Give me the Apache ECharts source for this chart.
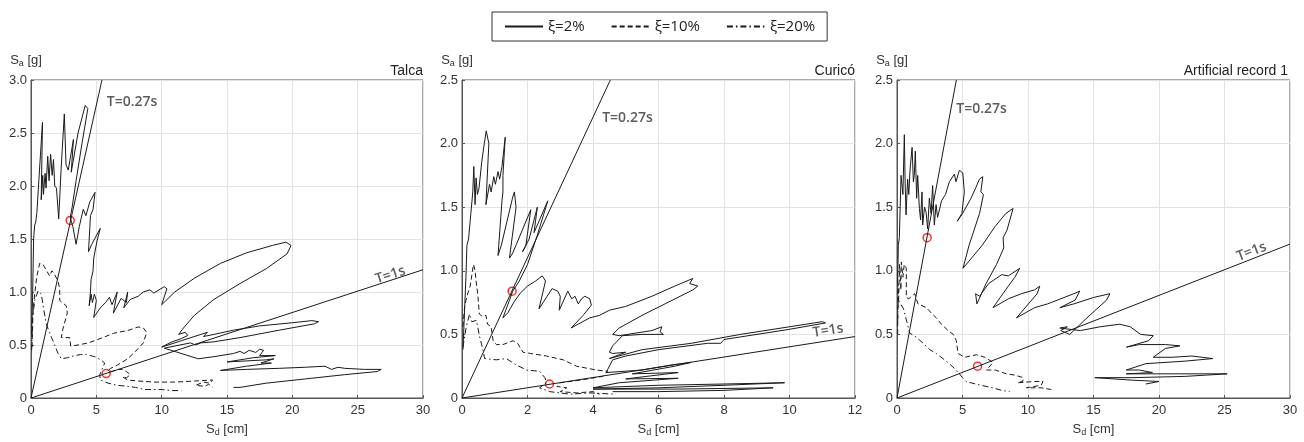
<!DOCTYPE html>
<html>
<head>
<meta charset="utf-8">
<script src="https://cdn.jsdelivr.net/npm/echarts@6/dist/echarts.min.js"></script>
<style>
html, body { margin: 0; padding: 0; background: #fff; }
#chart { width: 1304px; height: 442px; }
</style>
</head>
<body>
<div id="chart"></div>
<script>
// panel titles and legend names
const panelTitles = ['Talca', 'Curicó', 'Artificial record 1'];
const dampingNames = ['ξ=2%', 'ξ=10%', 'ξ=20%'];

// axis ranges
const xMax = [30, 12, 30];
const xStep = [5, 2, 5];
const yMax = [3.0, 2.5, 2.5];

// --- Talca: [Sd cm, Sa g] ---
const talca2 = [[0.05,0.60],[0.12,0.95],[0.2,1.5],[0.28,1.63],[0.36,1.66],[0.45,1.75],[0.6,2.05],[0.88,2.6],[0.78,1.87],[0.9,2.1],[0.95,1.92],[1.08,2.12],[1.15,1.98],[1.28,2.28],[1.38,2.05],[1.5,2.3],[1.62,2.1],[1.72,2.25],[1.82,2.0],[1.95,1.98],[2.12,1.69],[2.3,2.15],[2.55,2.68],[2.68,2.2],[2.85,2.15],[3.25,2.44],[3.08,2.13],[3.6,2.5],[4.15,2.76],[4.35,2.73],[3.9,2.4],[3.45,2.05],[3.15,1.8],[3.0,1.7],[3.2,1.62],[3.45,1.45],[3.7,1.62],[4.0,1.78],[4.2,1.72],[4.5,1.85],[4.9,1.94],[4.75,1.78],[4.55,1.72],[4.5,1.6],[4.4,1.38],[4.65,1.45],[5.3,1.6],[5.05,1.48],[4.8,1.32],[4.75,1.2],[4.6,1.12],[4.55,1.0],[4.45,0.87],[4.6,0.98],[4.7,0.9],[4.85,0.98],[5.0,0.92],[4.8,0.76],[5.3,0.85],[5.7,0.9],[6.0,0.95],[6.2,0.88],[6.6,1.0],[6.3,0.8],[6.9,0.94],[7.3,0.9],[7.4,1.0],[7.1,0.85],[7.6,0.93],[8.2,0.96],[8.6,1.0],[9.1,1.02],[9.4,0.99],[10.2,1.05],[10.4,1.03],[10.0,0.88],[11.0,1.0],[12.5,1.13],[14.5,1.27],[16.5,1.37],[18.5,1.44],[19.5,1.47],[19.9,1.44],[19.6,1.36],[18.0,1.22],[16.0,1.08],[14.0,0.93],[12.5,0.78],[11.6,0.65],[11.3,0.6],[11.8,0.62],[12.0,0.59],[11.5,0.56],[10.8,0.53],[10.3,0.5],[10.0,0.48],[11.5,0.54],[13.0,0.6],[13.5,0.62],[13.2,0.58],[14.0,0.6],[15.5,0.64],[17.5,0.68],[20.0,0.71],[21.5,0.73],[22.0,0.72],[21.7,0.7],[19.0,0.64],[16.0,0.57],[14.0,0.53],[13.0,0.52],[12.6,0.5],[12.2,0.52],[11.0,0.49],[10.2,0.47],[12.8,0.37],[14.0,0.39],[15.0,0.41],[15.5,0.42],[16.0,0.44],[16.3,0.42],[16.7,0.45],[17.2,0.43],[17.5,0.46],[17.8,0.45],[17.5,0.4],[18.7,0.4],[17.0,0.38],[15.0,0.34],[16.5,0.35],[18.0,0.36],[18.6,0.37],[17.6,0.33],[18.4,0.33],[16.5,0.3],[14.5,0.26],[16.5,0.27],[19.0,0.28],[21.0,0.29],[22.5,0.3],[23.0,0.27],[23.5,0.29],[24.0,0.28],[25.5,0.27],[26.8,0.27],[26.5,0.25],[24.0,0.22],[21.0,0.18],[18.0,0.14],[16.0,0.1],[15.5,0.1]];
const talca10 = [[0.08,0.48],[0.15,0.8],[0.28,0.98],[0.45,1.15],[0.66,1.27],[0.92,1.26],[1.2,1.2],[1.43,1.15],[1.6,1.2],[1.75,1.18],[2.07,1.1],[2.2,1.03],[2.2,0.92],[2.7,0.87],[2.78,0.8],[2.55,0.7],[2.42,0.64],[2.32,0.57],[2.96,0.57],[3.04,0.49],[3.6,0.5],[4.4,0.52],[5.5,0.57],[6.3,0.61],[7.5,0.64],[8.2,0.67],[8.6,0.66],[8.85,0.62],[8.6,0.52],[8.0,0.44],[7.4,0.37],[6.6,0.31],[6.1,0.28],[5.9,0.26],[6.2,0.25],[6.6,0.27],[7.0,0.27],[7.3,0.25],[7.6,0.22],[7.3,0.19],[7.0,0.2],[7.4,0.17],[8.2,0.16],[9.5,0.15],[11.0,0.15],[12.5,0.16],[13.9,0.17],[13.7,0.14],[13.2,0.15],[12.6,0.12],[13.3,0.11],[13.6,0.13],[13.9,0.1]];
const talca20 = [[0.05,0.45],[0.12,0.75],[0.28,0.92],[0.54,1.01],[0.79,0.98],[0.95,0.85],[1.17,0.7],[1.4,0.62],[1.68,0.54],[2.07,0.42],[2.32,0.37],[2.8,0.38],[3.34,0.4],[3.8,0.41],[4.23,0.41],[4.87,0.39],[5.35,0.36],[5.64,0.33],[5.4,0.26],[5.26,0.22],[5.3,0.17],[5.9,0.14],[6.6,0.12],[7.42,0.11],[8.0,0.1],[8.7,0.08],[9.97,0.08],[10.8,0.07],[11.5,0.07]];
const talcaT027 = [[0,0],[5.43,3.0]];
const talcaT1 = [[0,0],[30,1.21]];
const talcaPoints = [[3.0,1.675],[5.75,0.23]];

// --- Curicó ---
const curico2 = [[0.03,0.38],[0.08,0.7],[0.12,0.95],[0.15,1.2],[0.2,1.25],[0.27,1.45],[0.33,1.62],[0.36,1.82],[0.4,1.52],[0.43,1.73],[0.47,1.6],[0.52,1.65],[0.6,1.85],[0.68,2.0],[0.74,2.1],[0.8,2.1],[0.82,2.0],[0.73,1.52],[0.84,1.68],[0.89,1.62],[0.97,1.74],[1.02,1.68],[1.1,1.78],[1.15,1.72],[1.22,1.82],[1.32,2.05],[1.25,1.75],[1.25,1.62],[1.22,1.55],[1.1,1.12],[1.2,1.2],[1.55,1.58],[1.6,1.62],[1.65,1.5],[1.45,1.1],[1.55,1.14],[2.1,1.48],[1.95,1.2],[1.85,1.15],[2.05,1.25],[2.3,1.5],[2.2,1.3],[2.62,1.55],[2.3,1.28],[2.0,1.05],[1.75,0.92],[1.55,0.84],[1.35,0.7],[1.25,0.63],[1.4,0.67],[1.6,0.76],[1.8,0.83],[2.0,0.88],[2.25,0.92],[2.45,0.96],[2.55,0.92],[2.35,0.7],[2.6,0.8],[2.75,0.86],[2.92,0.84],[3.0,0.8],[2.97,0.69],[3.23,0.84],[3.35,0.78],[3.45,0.8],[3.55,0.74],[3.65,0.78],[3.75,0.8],[3.9,0.78],[3.95,0.73],[3.7,0.65],[3.33,0.55],[3.9,0.63],[4.2,0.65],[4.5,0.69],[5.0,0.72],[5.8,0.8],[6.5,0.88],[7.05,0.94],[6.95,0.9],[7.2,0.88],[7.05,0.85],[6.2,0.74],[5.5,0.65],[4.8,0.55],[4.6,0.5],[4.8,0.49],[5.3,0.51],[5.8,0.53],[6.1,0.56],[6.05,0.52],[6.15,0.5],[5.5,0.5],[4.9,0.49],[4.6,0.41],[4.5,0.36],[4.6,0.35],[5.0,0.36],[4.7,0.33],[4.5,0.31],[5.5,0.38],[7.0,0.43],[8.5,0.5],[10.0,0.56],[11.0,0.6],[11.1,0.59],[10.0,0.54],[8.0,0.46],[7.9,0.43],[7.5,0.43],[6.0,0.38],[5.0,0.33],[4.6,0.3],[4.4,0.2],[5.5,0.22],[6.4,0.26],[7.0,0.28],[6.5,0.25],[5.2,0.19],[6.6,0.2],[5.0,0.15],[6.6,0.155],[4.8,0.12],[4.0,0.08],[6.0,0.1],[8.0,0.11],[9.85,0.12],[8.0,0.1],[6.0,0.08],[4.0,0.07],[6.5,0.07],[9.5,0.08],[8.0,0.06],[6.0,0.05],[4.6,0.05]];
const curico10 = [[0.03,0.56],[0.08,0.72],[0.15,0.8],[0.25,0.88],[0.35,1.05],[0.4,1.0],[0.43,0.92],[0.48,0.82],[0.53,0.66],[0.63,0.64],[0.73,0.65],[0.78,0.58],[0.89,0.56],[0.95,0.45],[1.05,0.42],[1.25,0.42],[1.56,0.45],[1.7,0.43],[1.86,0.36],[2.1,0.35],[2.58,0.33],[3.09,0.3],[3.5,0.25],[4.1,0.22],[4.45,0.21],[4.3,0.17],[3.6,0.14],[3.0,0.12],[2.9,0.09],[3.2,0.08],[3.0,0.05],[3.5,0.04],[4.0,0.05],[4.2,0.03]];
const curico20 = [[0.03,0.4],[0.13,0.56],[0.23,0.66],[0.3,0.6],[0.44,0.61],[0.54,0.48],[0.64,0.38],[0.69,0.31],[1.05,0.3],[1.35,0.31],[1.66,0.26],[1.97,0.22],[2.37,0.21],[2.53,0.16],[2.58,0.12],[2.37,0.08],[2.68,0.05],[3.29,0.03],[3.9,0.04],[4.7,0.03]];
const curicoT027 = [[0,0],[4.53,2.5]];
const curicoT1 = [[0,0],[12,0.483]];
const curicoPoints = [[1.53,0.84],[2.67,0.11]];

// --- Artificial record 1 ---
const artif2 = [[0.05,0.9],[0.1,1.2],[0.18,1.26],[0.31,1.75],[0.45,1.6],[0.56,2.07],[0.62,1.7],[0.69,1.44],[0.81,1.72],[0.9,1.6],[1.0,1.8],[1.15,1.97],[1.25,1.7],[1.32,1.75],[1.4,1.94],[1.5,1.57],[1.58,1.75],[1.71,1.49],[1.8,1.4],[1.91,1.62],[1.96,1.36],[2.1,1.5],[2.22,1.46],[2.34,1.33],[2.47,1.57],[2.6,1.45],[2.72,1.67],[2.85,1.36],[2.98,1.52],[3.1,1.42],[3.4,1.55],[3.7,1.6],[4.0,1.7],[4.38,1.76],[4.5,1.7],[4.76,1.79],[5.02,1.77],[5.14,1.62],[4.95,1.45],[4.6,1.39],[5.0,1.45],[5.65,1.57],[6.0,1.65],[6.29,1.72],[6.55,1.74],[6.4,1.62],[6.6,1.6],[6.3,1.45],[5.5,1.2],[5.04,1.02],[6.5,1.2],[7.5,1.35],[8.3,1.45],[8.86,1.49],[8.4,1.32],[8.1,1.26],[8.15,1.18],[7.6,1.05],[6.8,0.9],[6.1,0.74],[6.0,0.82],[6.3,0.8],[7.0,0.9],[8.0,0.97],[8.5,0.96],[9.37,1.02],[9.0,0.95],[8.5,0.88],[7.33,0.71],[8.5,0.78],[9.5,0.82],[10.5,0.85],[10.9,0.88],[10.7,0.82],[9.12,0.63],[10.5,0.71],[11.5,0.74],[12.5,0.78],[13.5,0.82],[13.95,0.84],[13.6,0.77],[12.43,0.71],[13.5,0.74],[15.0,0.79],[16.25,0.82],[16.0,0.77],[14.5,0.63],[13.19,0.5],[12.5,0.53],[13.0,0.56],[12.43,0.55],[14.0,0.53],[15.5,0.56],[17.0,0.58],[17.8,0.56],[18.6,0.5],[19.56,0.49],[19.2,0.45],[17.52,0.4],[18.5,0.42],[20.5,0.42],[21.6,0.41],[20.5,0.39],[19.56,0.32],[21.0,0.32],[22.5,0.33],[24.1,0.31],[22.0,0.29],[19.0,0.27],[17.5,0.22],[18.5,0.22],[19.5,0.2],[17.5,0.19],[21.0,0.19],[25.2,0.19],[22.0,0.17],[18.0,0.16],[15.1,0.16],[18.0,0.14],[20.0,0.13],[19.0,0.11]];
const artif10 = [[0.05,0.5],[0.08,0.9],[0.12,0.75],[0.2,1.05],[0.3,0.85],[0.33,1.07],[0.45,0.95],[0.55,1.05],[0.71,1.02],[0.71,0.79],[0.9,0.78],[1.35,0.82],[1.6,0.74],[2.24,0.71],[2.6,0.67],[3.0,0.63],[3.39,0.58],[3.9,0.53],[4.3,0.5],[4.53,0.45],[4.66,0.35],[5.17,0.32],[6.06,0.34],[6.7,0.32],[7.33,0.28],[7.0,0.24],[6.82,0.22],[7.5,0.22],[8.35,0.19],[9.0,0.18],[9.63,0.16],[9.6,0.13],[9.2,0.12],[10.5,0.13],[11.15,0.13],[11.0,0.1],[9.88,0.08],[11.0,0.08],[11.9,0.065]];
const artif20 = [[0.05,0.6],[0.1,0.77],[0.25,0.76],[0.5,0.7],[0.75,0.6],[0.97,0.51],[1.45,0.48],[2.0,0.43],[2.5,0.38],[3.0,0.35],[3.5,0.31],[4.0,0.27],[4.5,0.22],[4.76,0.19],[5.0,0.16],[5.27,0.13],[6.0,0.11],[7.3,0.08],[8.0,0.06],[8.6,0.05]];
const artifT027 = [[0,0],[4.53,2.5]];
const artifT1 = [[0,0],[30,1.21]];
const artifPoints = [[2.3,1.26],[6.15,0.25]];

const curves = [
  [talca2, talca10, talca20],
  [curico2, curico10, curico20],
  [artif2, artif10, artif20]
];
const periodLines = [[talcaT027, talcaT1], [curicoT027, curicoT1], [artifT027, artifT1]];
const circlePoints = [talcaPoints, curicoPoints, artifPoints];

const font = 'Liberation Sans, Arial, sans-serif';
const labelFont = 'Open Sans, sans-serif';
const ink = '#1a1a1a';
const dashTypes = ['solid', [5, 3], [6, 3, 1.5, 3]];

const grids = [
  { left: 31, top: 80, width: 392, height: 322 },
  { left: 462, top: 80, width: 393, height: 322 },
  { left: 897, top: 80, width: 393, height: 322 }
];
grids.forEach(g => { g.show = true; g.borderColor = '#555'; g.borderWidth = 1; });

const nameRich = {
  s: { fontSize: 13, color: '#333', fontFamily: font },
  sub: { fontSize: 9, color: '#333', fontFamily: font, verticalAlign: 'bottom', padding: [7, 0, 0, 0] }
};

const xAxes = grids.map((g, i) => ({
  type: 'value', gridIndex: i, min: 0, max: xMax[i], interval: xStep[i],
  name: '{s|S}{sub|d}{s| [cm]}', nameLocation: 'middle', nameGap: 23,
  nameTextStyle: { rich: nameRich },
  axisLine: { show: true, lineStyle: { color: '#555' } },
  axisTick: { show: true, inside: true, length: 3, lineStyle: { color: '#555' } },
  axisLabel: { color: '#333', fontSize: 13, fontFamily: font, margin: 6 },
  splitLine: { show: true, lineStyle: { color: '#e2e2e2' } }
}));

const yAxes = grids.map((g, i) => ({
  type: 'value', gridIndex: i, min: 0, max: yMax[i], interval: 0.5,
  name: '{s|S}{sub|a}{s| [g]}', nameLocation: 'end', nameGap: 12,
  nameTextStyle: { rich: nameRich, padding: [0, 10, 0, 0] },
  axisLine: { show: true, lineStyle: { color: '#555' } },
  axisTick: { show: true, inside: true, length: 3, lineStyle: { color: '#555' } },
  axisLabel: {
    color: '#333', fontSize: 13, fontFamily: font, margin: 4,
    formatter: v => (v === 0 ? '0' : v.toFixed(1))
  },
  splitLine: { show: true, lineStyle: { color: '#e2e2e2' } }
}));

const series = [];
curves.forEach((set, i) => {
  set.forEach((data, k) => {
    series.push({
      name: dampingNames[k], type: 'line', xAxisIndex: i, yAxisIndex: i,
      data: data, symbol: 'none', silent: true,
      itemStyle: { color: ink },
      lineStyle: { color: ink, width: 1, type: dashTypes[k] }
    });
  });
  periodLines[i].forEach(line => {
    series.push({
      type: 'line', xAxisIndex: i, yAxisIndex: i, data: line, symbol: 'none', silent: true,
      lineStyle: { color: ink, width: 1 }
    });
  });
  series.push({
    type: 'scatter', xAxisIndex: i, yAxisIndex: i, data: circlePoints[i],
    symbol: 'circle', symbolSize: 8, silent: true,
    itemStyle: { color: 'rgba(0,0,0,0)', borderColor: '#ee0000', borderWidth: 1.5 }
  });
});

// period labels next to the T lines
function periodLabel(i, at, text, rotate, pos) {
  return {
    type: 'scatter', xAxisIndex: i, yAxisIndex: i, data: [at], symbolSize: 0, silent: true,
    label: {
      show: true, formatter: text, position: pos, distance: 0, rotate: rotate,
      fontSize: 14, fontWeight: 600, color: '#333', fontFamily: labelFont
    }
  };
}
series.push(periodLabel(0, [5.8, 2.79], 'T=0.27s', 0, 'right'));
series.push(periodLabel(0, [27.5, 1.16], 'T=1s', 18, 'inside'));
series.push(periodLabel(1, [4.28, 2.2], 'T=0.27s', 0, 'right'));
series.push(periodLabel(1, [11.18, 0.53], 'T=1s', 9, 'inside'));
series.push(periodLabel(2, [4.53, 2.27], 'T=0.27s', 0, 'right'));
series.push(periodLabel(2, [27.07, 1.15], 'T=1s', 21, 'inside'));

const titleRights = [881, 449, 16];
const titles = panelTitles.map((t, i) => ({
  text: t, right: titleRights[i], top: 64, padding: 0,
  textStyle: { fontSize: 14, fontWeight: 'normal', color: '#222', fontFamily: font }
}));

const chart = echarts.init(document.getElementById('chart'));
chart.setOption({
  animation: false,
  backgroundColor: '#fff',
  title: titles,
  legend: {
    data: dampingNames, left: 492, top: 12,
    borderColor: '#333', borderWidth: 1, padding: [7, 12, 7, 12],
    itemWidth: 38, itemHeight: 12, itemGap: 26,
    itemStyle: { opacity: 0 },
    textStyle: { fontSize: 15, color: '#222', fontFamily: labelFont }
  },
  grid: grids,
  xAxis: xAxes,
  yAxis: yAxes,
  series: series
});
</script>
</body>
</html>
